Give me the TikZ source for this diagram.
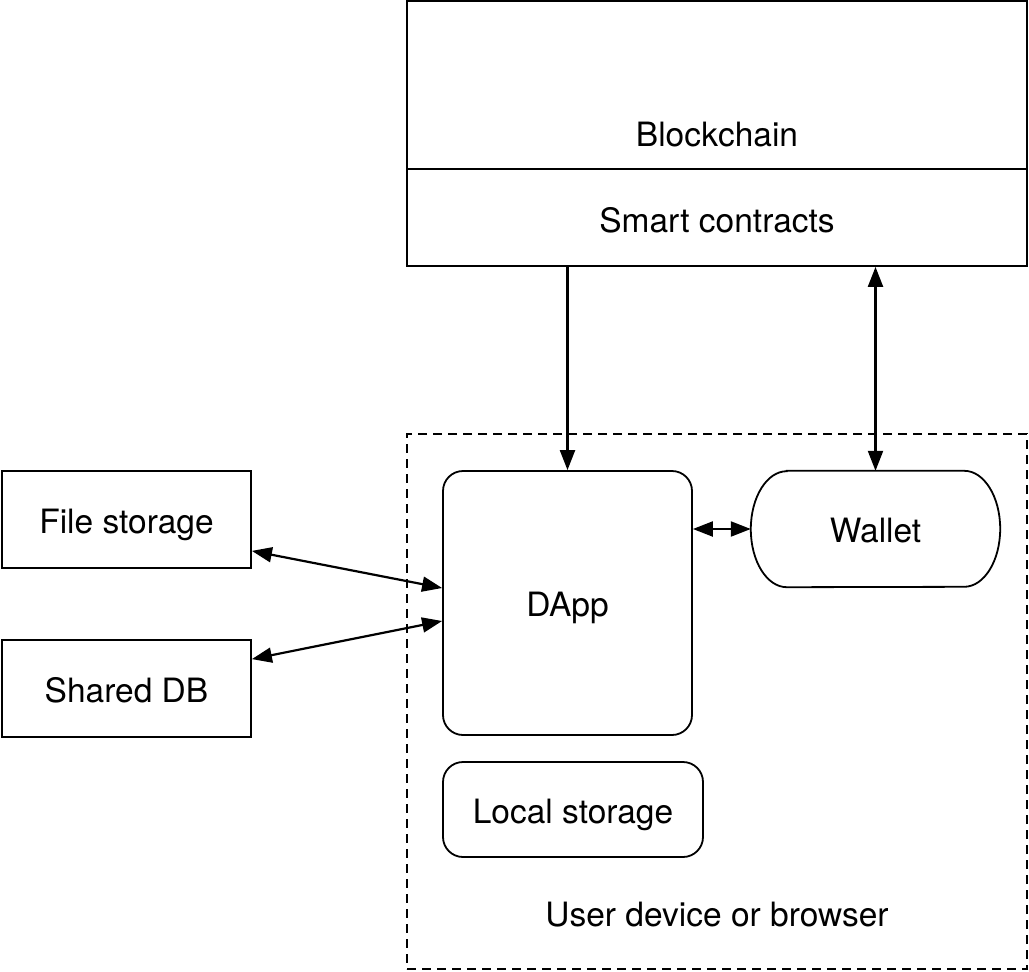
\documentclass[tikz,border=0pt]{standalone}
\usepackage{fontspec}
\setmainfont{TeX Gyre Heros}
\usetikzlibrary{arrows.meta,calc}
\tikzset{
  base/.style={draw=black, line width=1.8pt, inner sep=0pt, text height=27pt, text depth=0pt},
  sqbox/.style={base},
  rndbox/.style={base, rounded corners=20pt},
  plain/.style={inner sep=0pt, text height=27pt, text depth=0pt},
  conn/.style={draw=black, line width=2.2pt, arrows={-Triangle[length=20pt,width=15pt]}},
  dconn/.style={draw=black, line width=2.2pt, arrows={Triangle[length=20pt,width=15pt]-Triangle[length=20pt,width=15pt]}},
  devbox/.style={draw=black, line width=1.8pt, dash pattern=on 9pt off 6pt, inner sep=0pt}
}
\begin{document}
\begin{tikzpicture}[x=1pt,y=-1pt,font=\fontsize{33.5}{40}\selectfont]
\useasboundingbox (0,0) rectangle (1029,972);
% blockchain
\node[sqbox, minimum width=620pt, minimum height=168pt] (chain) at (717,85) {};
\node[plain] (chaintxt) at (717,133) {Blockchain};
\node[sqbox, minimum width=620pt, minimum height=97pt, text height=29pt] (smart) at (717,217.5) {Smart contracts};
% device
\node[devbox, minimum width=620pt, minimum height=535pt] (device) at (717,701.5) {};
\node[plain] (devtxt) at (717,912.5) {User device or browser};
% inner nodes
\node[rndbox, minimum width=249pt, minimum height=264pt] (dapp) at (567.5,603) {DApp};
\node[plain, minimum width=249pt, minimum height=116pt] (wallet) at (875.5,529) {Wallet};
\draw[base] ([xshift=36pt]wallet.north west) -- ([xshift=-36pt]wallet.north east)
  arc[start angle=90, end angle=-90, x radius=36pt, y radius=58pt]
  -- ([xshift=36pt]wallet.south west)
  arc[start angle=270, end angle=90, x radius=36pt, y radius=58pt] -- cycle;
\node[rndbox, minimum width=260pt, minimum height=95pt] (local) at (573,809.5) {Local storage};
% external
\node[sqbox, minimum width=249pt, minimum height=97pt] (file) at (126.5,519.5) {File storage};
\node[sqbox, minimum width=249pt, minimum height=97pt] (shared) at (126.5,688.5) {Shared DB};
% connectors
\draw[conn] (dapp.north |- smart.south) -- (dapp.north);
\draw[dconn] (wallet.north |- smart.south) -- (wallet.north);
\draw[dconn] (dapp.east |- wallet.west) -- (wallet.west);
\draw[dconn] ($(file.south east)+(0,-18)$) -- ($(dapp.west)+(0,-15)$);
\draw[dconn] ($(shared.north east)+(0,20)$) -- ($(dapp.west)+(0,18)$);
\end{tikzpicture}
\end{document}
